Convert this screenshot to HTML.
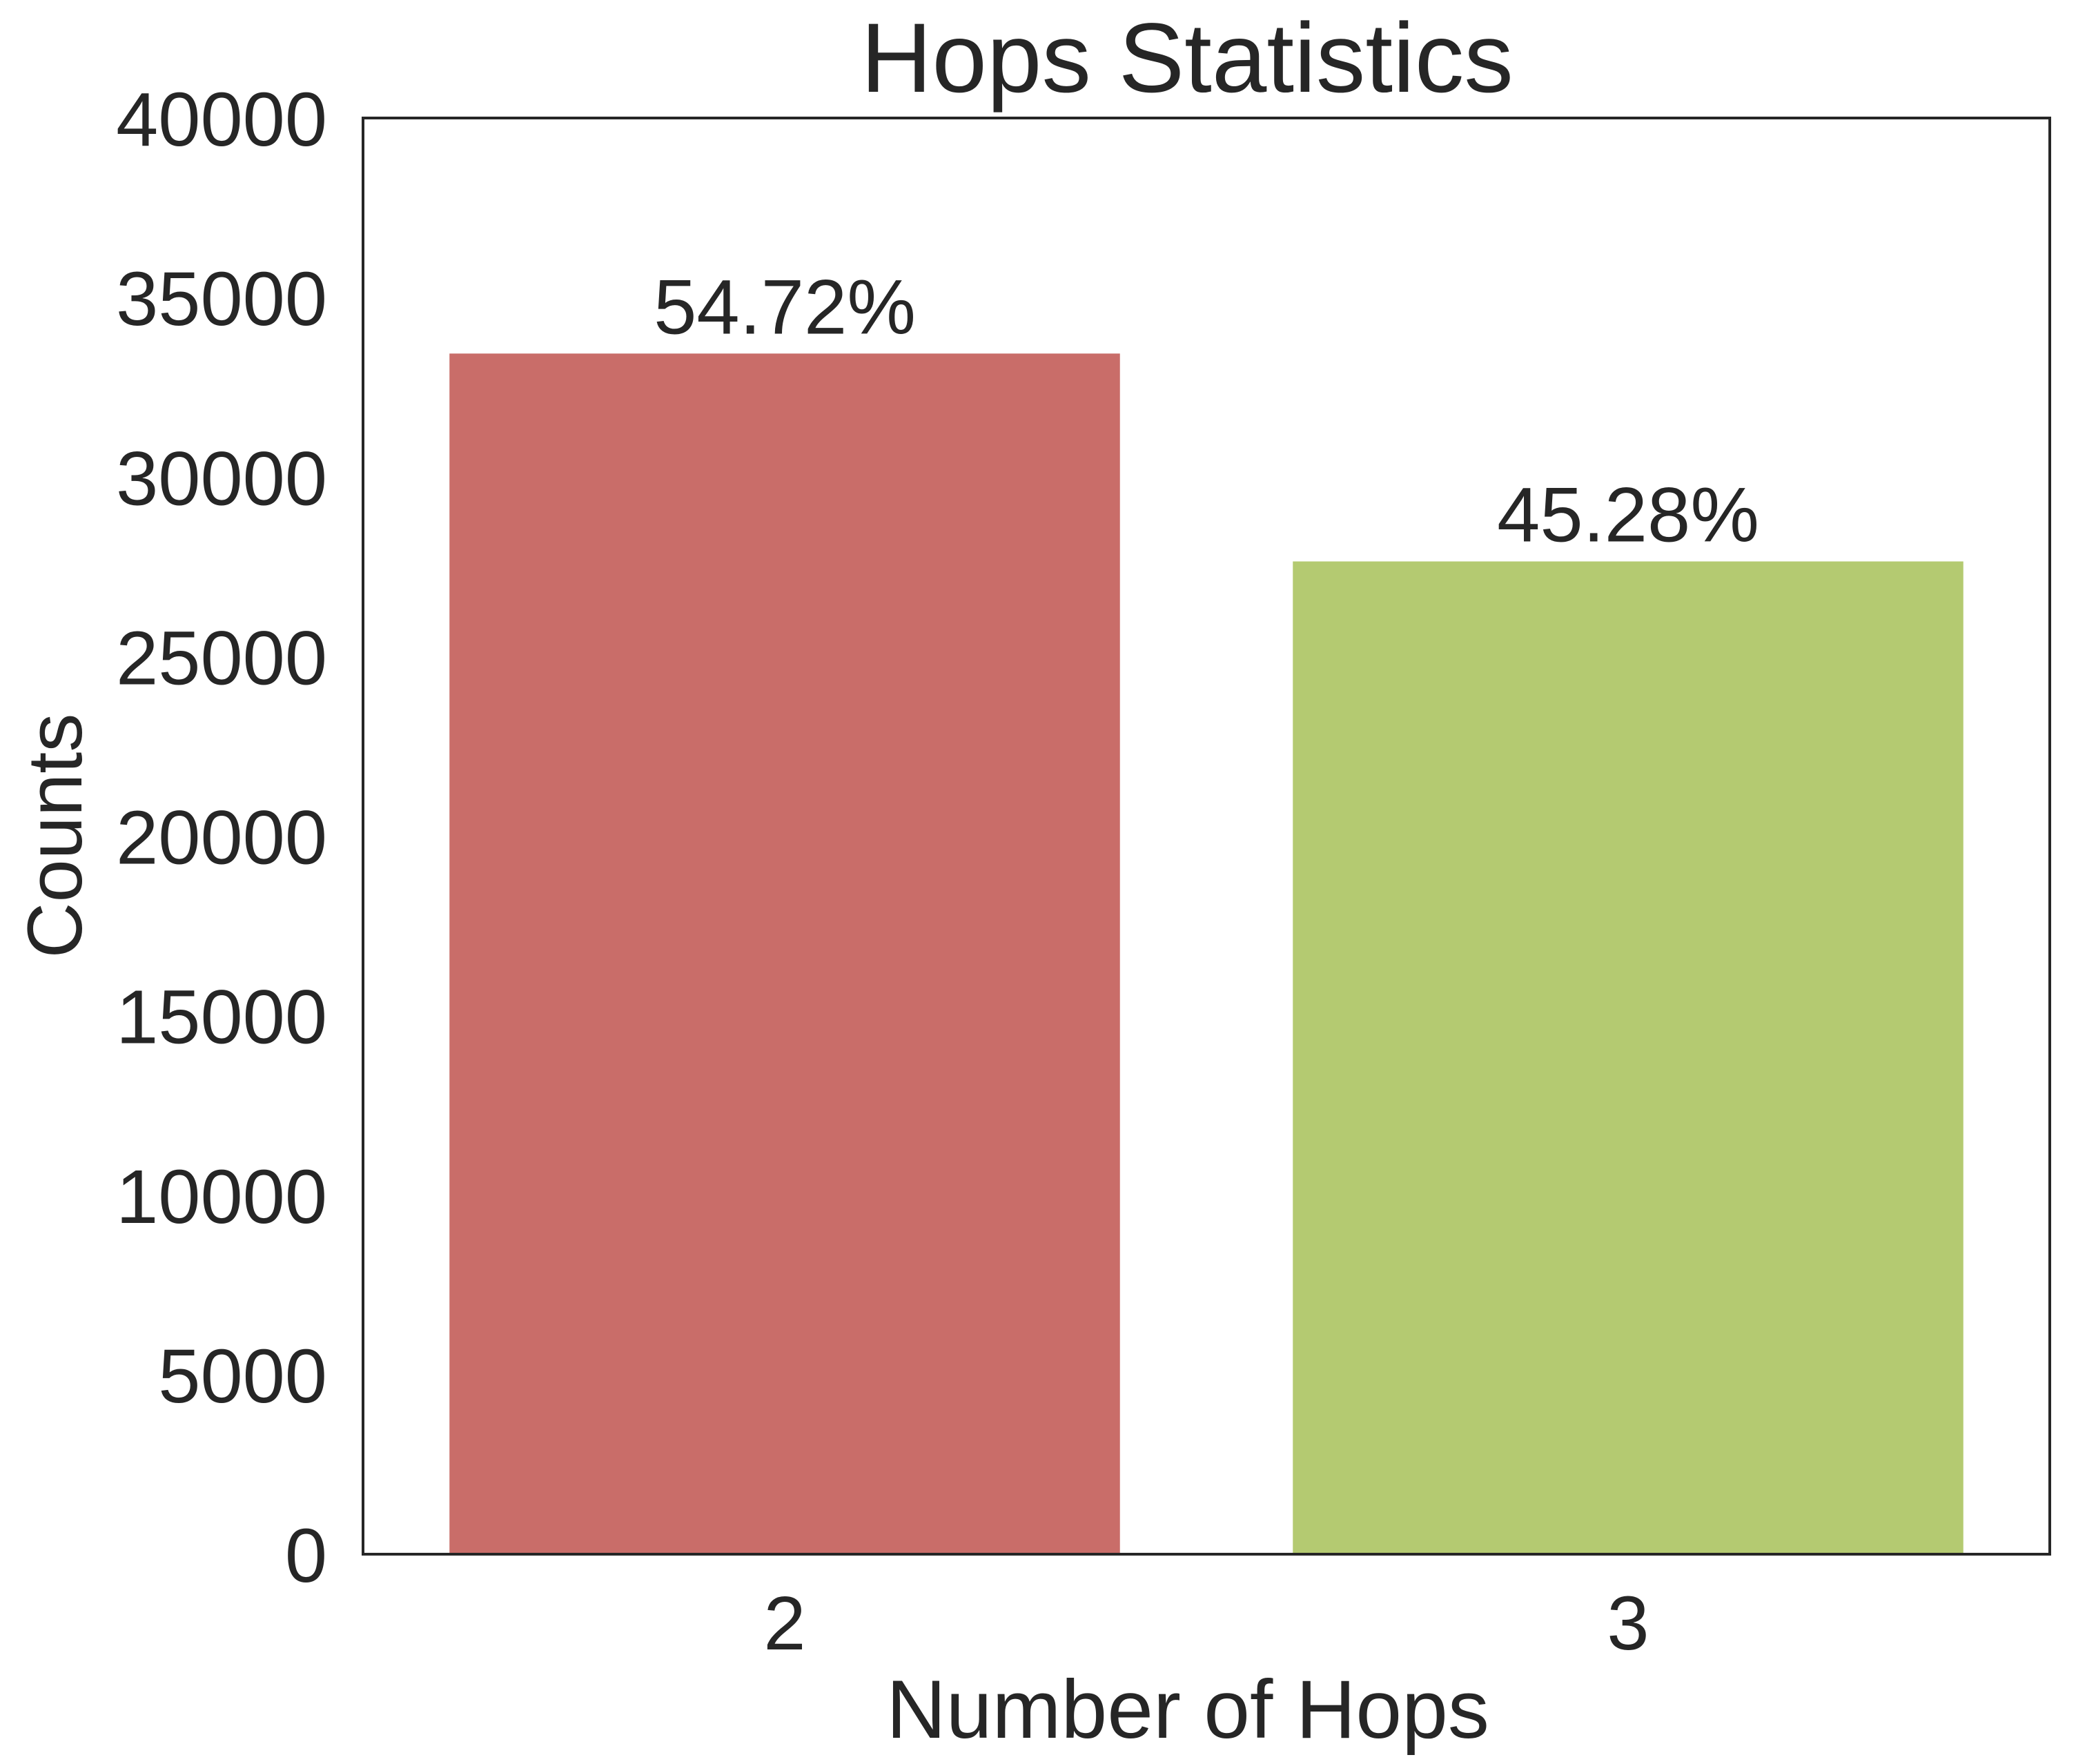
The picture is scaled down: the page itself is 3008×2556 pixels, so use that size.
<!DOCTYPE html>
<html><head><meta charset="utf-8"><style>body{margin:0;background:#fff}svg{display:block}text{font-family:"Liberation Sans",Arial,sans-serif;fill:#262626}</style></head>
<body>
<svg id="chart" width="3008" height="2556" viewBox="0 0 3008 2556" xmlns="http://www.w3.org/2000/svg">
<text x="1720" y="133" font-size="143" text-anchor="middle">Hops Statistics</text>
<g id="bars"></g>
<g id="yticks"></g>
<g id="xticks"></g>
<rect x="526" y="171" width="2444" height="2081" fill="none" stroke="#262626" stroke-width="4"/>
<text x="1721" y="2518" font-size="120" text-anchor="middle">Number of Hops</text>
<text transform="translate(118,1211) rotate(-90)" font-size="112" text-anchor="middle">Counts</text>
</svg>
<script>
const categories = ["2", "3"];
const counts = [33440, 27650];
const percentLabels = ["54.72%", "45.28%"];
const colors = ["#c96d69", "#b4ca71"];
const yTicks = [0, 5000, 10000, 15000, 20000, 25000, 30000, 35000, 40000];

const L = 526, R = 2970, T = 171, B = 2252, yMax = 40000;
const ns = "http://www.w3.org/2000/svg";
const y = v => B - (v / yMax) * (B - T);
const band = (R - L) / categories.length;
const x = i => L + band * (i + 0.5);
const bw = band * 0.795;

const bars = document.getElementById('bars');
categories.forEach((c, i) => {
  const r = document.createElementNS(ns, 'rect');
  
  
  r.setAttribute('x', x(i) - bw / 2);
  r.setAttribute('y', y(counts[i]));
  r.setAttribute('width', bw);
  r.setAttribute('height', B - y(counts[i]));
  r.setAttribute('fill', colors[i]);
  bars.appendChild(r);
  const t = document.createElementNS(ns, 'text');
  
  
  t.setAttribute('x', x(i));
  t.setAttribute('y', y(counts[i]) - 29);
  t.setAttribute('font-size', '112');
  t.setAttribute('text-anchor', 'middle');
  t.textContent = percentLabels[i];
  bars.appendChild(t);
  const xt = document.createElementNS(ns, 'text');
  
  
  xt.setAttribute('x', x(i));
  xt.setAttribute('y', 2390);
  xt.setAttribute('font-size', '110');
  xt.setAttribute('text-anchor', 'middle');
  xt.textContent = c;
  document.getElementById('xticks').appendChild(xt);
});
const yg = document.getElementById('yticks');
yTicks.forEach(v => {
  const t = document.createElementNS(ns, 'text');
  
  
  t.setAttribute('x', 474);
  t.setAttribute('y', y(v) + 40);
  t.setAttribute('font-size', '110');
  t.setAttribute('text-anchor', 'end');
  t.textContent = v;
  yg.appendChild(t);
});
</script>
</body></html>
